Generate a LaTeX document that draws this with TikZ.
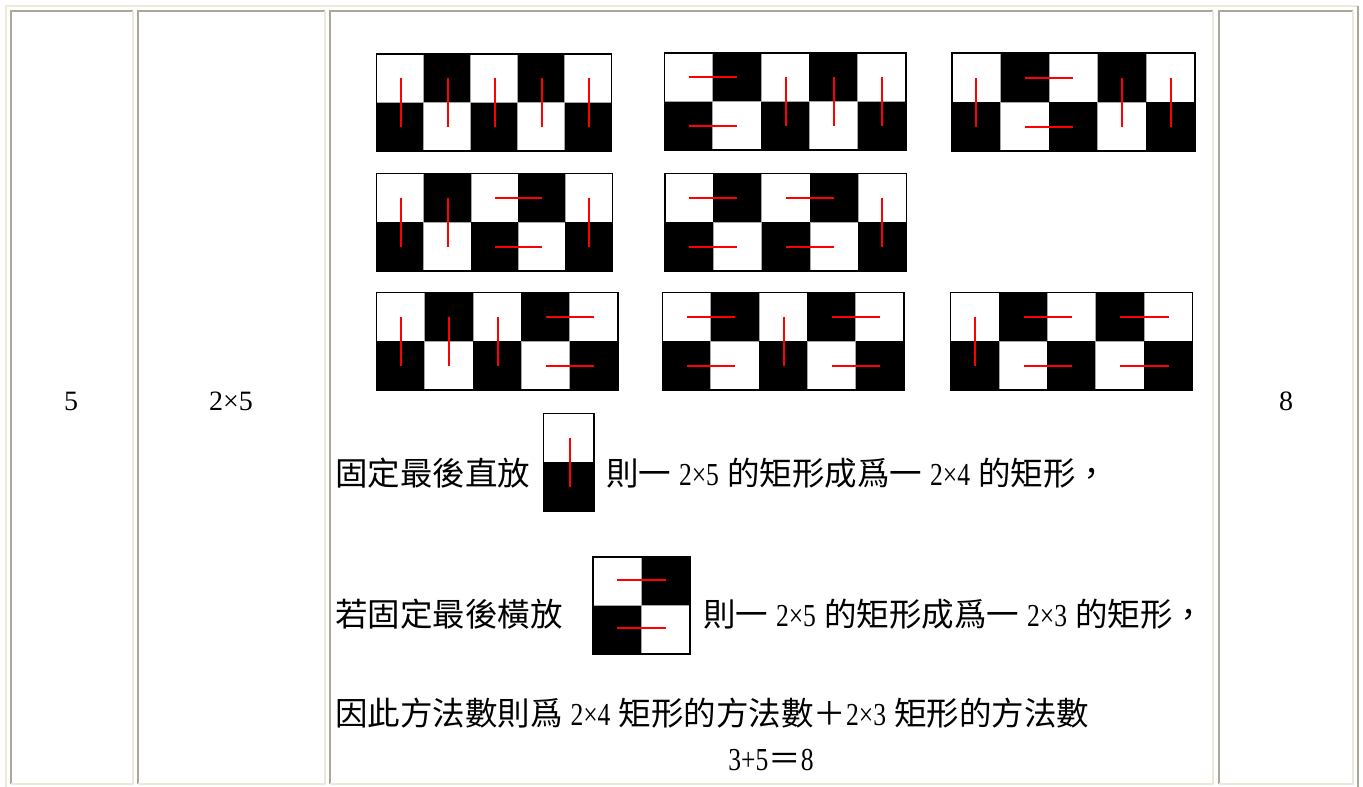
\documentclass[tikz,border=0pt]{standalone}
\usepackage{fontspec}
\setmainfont{Liberation Serif}
\newfontfamily\cjkfont{Noto Sans CJK TC}
\newfontfamily\latnarrow[FakeStretch=0.8]{Liberation Serif}
\newcommand\zh[1]{{\cjkfont\fontsize{32.5}{36}\selectfont #1}}
\newcommand\la[1]{{\latnarrow\fontsize{32}{36}\selectfont #1}}
\newcommand\gap{\hspace{8pt}}
\definecolor{bdark}{HTML}{ACA899}
\definecolor{blight}{HTML}{ECE9D8}
\tikzset{
  txt/.style={inner sep=0pt, outer sep=0pt, anchor=base west, font=\fontsize{28}{32}\selectfont},
  ctxt/.style={inner sep=0pt, outer sep=0pt, anchor=base, font=\fontsize{28}{32}\selectfont},
  sqw/.style={draw=gray!70, fill=white, line width=0.8pt},
  sqb/.style={fill=black},
  outerbox/.style={draw=black, line width=1.3pt},
  redl/.style={draw=red, line width=2pt},
  darkedge/.style={draw=bdark, line width=2pt},
  lightedge/.style={draw=blight, line width=2pt}
}
\newcommand\tcell[4]{%
  \draw[darkedge] (#1,#4) -- (#1,#2) -- (#3,#2);
  \draw[lightedge] (#3,#2) -- (#3,#4) -- (#1,#4);}
\newcommand\dominoboard[6]{%
  \begin{scope}[shift={(#1,#2)}]
    \pgfmathsetmacro\cw{#3/5}
    \pgfmathsetmacro\ch{#4/2}
    \pgfmathsetmacro\ya{round(0.5*\ch)}
    \pgfmathsetmacro\yb{round(1.5*\ch)}
    \foreach \c in {0,...,4}{\foreach \r in {0,1}{
      \pgfmathtruncatemacro\oddsq{mod(\c+\r,2)}
      \ifnum\oddsq=1 \path[sqb] (\c*\cw,\r*\ch) rectangle ++(\cw,\ch);
      \else \path[sqw] (\c*\cw,\r*\ch) rectangle ++(\cw,\ch); \fi
    }}
    \path[outerbox] (0,0) rectangle (#3,#4);
    \foreach \c in {#5}{\ifnum\c>0
      \pgfmathsetmacro\xa{round((\c-0.5)*\cw)}
      \path[redl] (\xa,\ya) -- (\xa,\yb);\fi}
    \foreach \c in {#6}{\ifnum\c>0
      \pgfmathsetmacro\xa{round((\c-0.5)*\cw)}
      \pgfmathsetmacro\xb{round((\c+0.5)*\cw)}
      \path[redl] (\xa,\ya) -- (\xb,\ya);
      \path[redl] (\xa,\yb) -- (\xb,\yb);\fi}
  \end{scope}}
\begin{document}
\begin{tikzpicture}[x=1pt,y=-1pt]
\useasboundingbox (0,0) rectangle (1363,787);
\fill[white] (0,0) rectangle (1363,787);
% outer table border
\draw[lightedge] (6,787) -- (6,6) -- (1358,6);
\draw[darkedge] (1358,6) -- (1358,787);
% cells
\tcell{11}{11}{133}{784}
\tcell{138}{11}{325}{784}
\tcell{330}{11}{1213}{784}
\tcell{1219}{11}{1353}{784}
% cell texts
\node[ctxt] (n1) at (71,410) {5};
\node[ctxt] (n2) at (231,410) {2×5};
\node[ctxt] (n4) at (1286,410) {8};
% boards
\dominoboard{376.5}{54}{235}{97}{1,2,3,4,5}{0}
\dominoboard{664.5}{53}{241.5}{97}{3,4,5}{1}
\dominoboard{952}{53}{243}{98}{1,4,5}{2}
\dominoboard{376.5}{173.5}{236}{97.5}{1,2,5}{3}
\dominoboard{665}{173.5}{241.5}{97.5}{5}{1,3}
\dominoboard{376.5}{292.5}{241.5}{97.5}{1,2,3}{4}
\dominoboard{662.5}{292.5}{241.5}{97.5}{3}{1,4}
\dominoboard{950.5}{292.5}{242}{97.5}{1}{2,4}
% vertical piece
\path[sqw] (543.5,413.5) rectangle (594,462);
\path[sqb] (543.5,462) rectangle (594,511);
\path[outerbox] (543.5,413.5) rectangle (594,511);
\path[redl] (570,438) -- (570,487);
% horizontal pair
\path[sqw] (593,557) rectangle (641.5,605.5);
\path[sqb] (641.5,557) rectangle (690,605.5);
\path[sqb] (593,605.5) rectangle (641.5,654);
\path[sqw] (641.5,605.5) rectangle (690,654);
\path[outerbox] (593,557) rectangle (690,654);
\path[redl] (617,580) -- (666,580);
\path[redl] (617,628) -- (666,628);
% explanation texts
\node[txt] (t1a) at (335,485) {\zh{固定最後直放}};
\node[txt] (t1b) at (606,485) {\zh{則一}\gap\la{2×5}\gap\zh{的矩形成爲一}\gap\la{2×4}\gap\zh{的矩形，}};
\node[txt] (t2a) at (335,626) {\zh{若固定最後橫放}};
\node[txt] (t2b) at (703,626) {\zh{則一}\gap\la{2×5}\gap\zh{的矩形成爲一}\gap\la{2×3}\gap\zh{的矩形，}};
\node[txt] (t3) at (335,725) {\zh{因此方法數則爲}\gap\la{2×4}\gap\zh{矩形的方法數＋}\la{2×3}\gap\zh{矩形的方法數}};
\node[ctxt] (t4) at (771,770) {\la{3+5}\zh{＝}\la{8}};
\end{tikzpicture}
\end{document}
